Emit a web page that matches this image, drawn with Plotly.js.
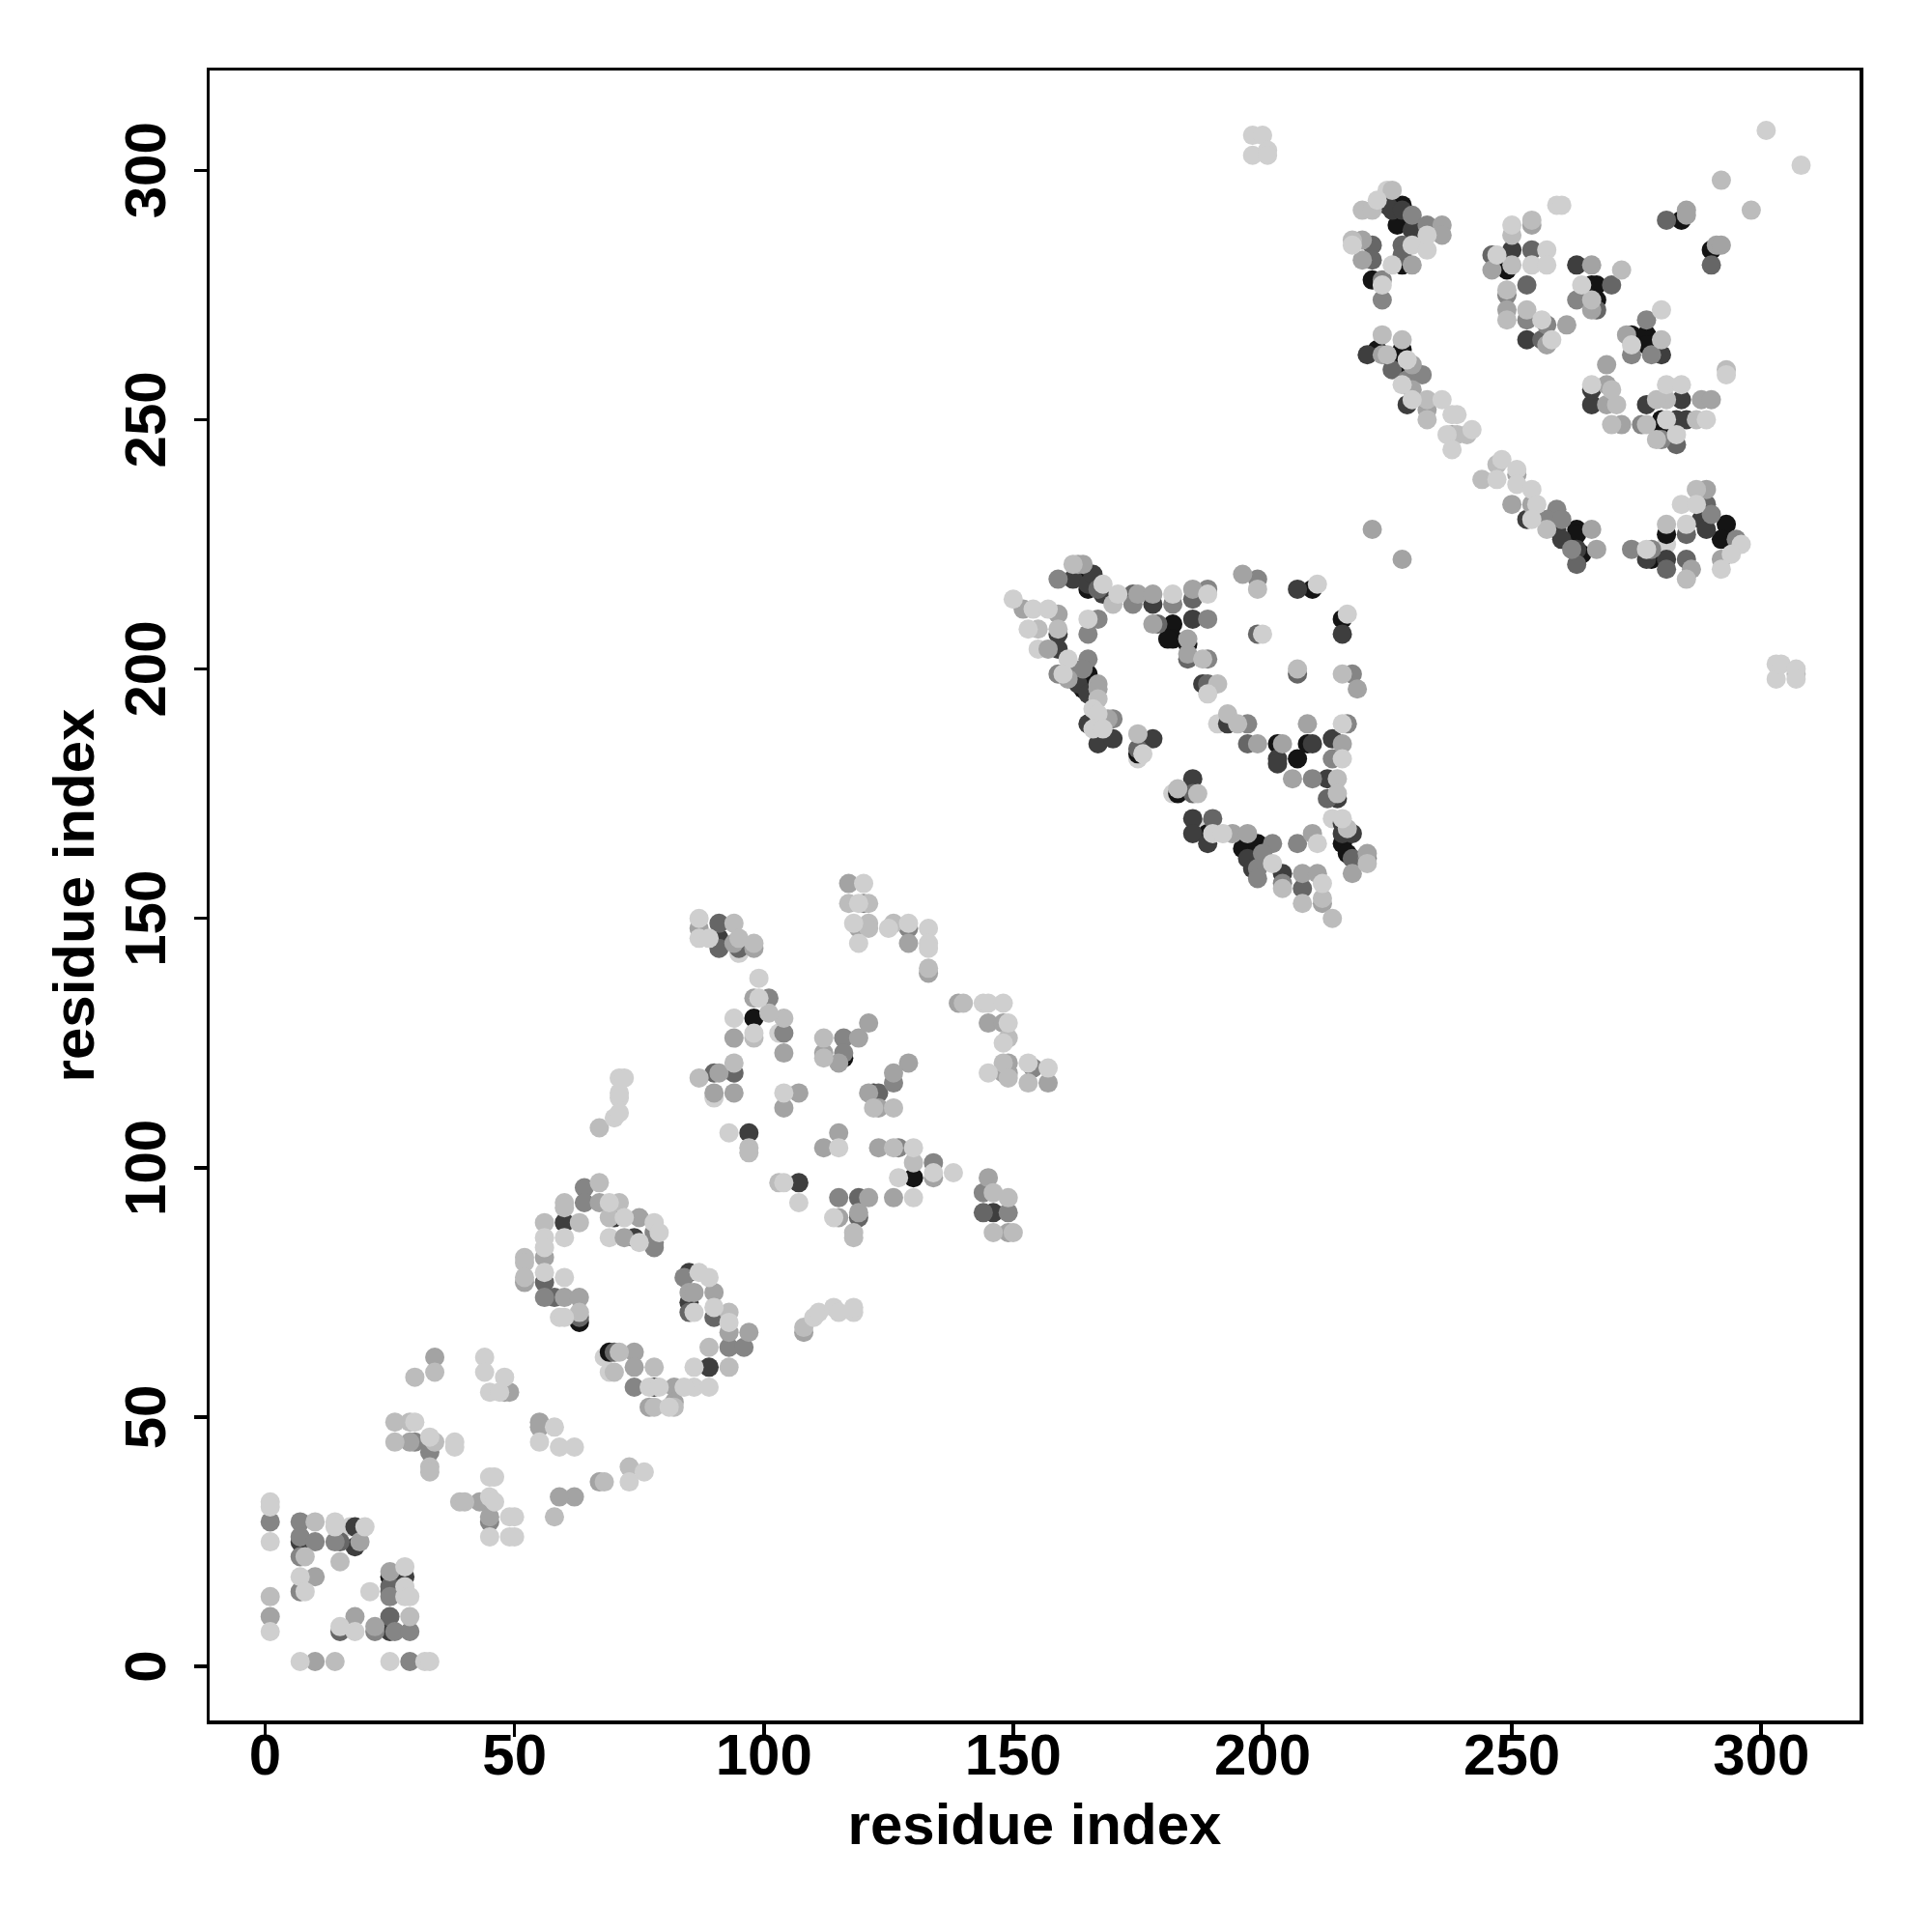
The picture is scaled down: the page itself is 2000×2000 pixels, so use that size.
<!DOCTYPE html>
<html><head><meta charset="utf-8">
<script src="https://cdn.plot.ly/plotly-3.0.1.min.js"></script>
<style>html,body{margin:0;padding:0;background:#fff}</style></head>
<body><div id="chart" style="width:2000px;height:2000px"></div>
<script>
const lightUnder=[[17,28],[68,62],[191,189],[182,175],[214,170],[175,182],[281,225],[103,127],[90,114],[188,168],[69,59],[69,86],[95,143],[155,204],[225,296]];
const black=[[25,18],[63,69],[69,63],[98,130],[116,122],[130,98],[163,219],[165,216],[182,209],[182,206],[181,206],[185,205],[165,199],[164,196],[175,183],[183,175],[189,167],[196,164],[199,165],[216,165],[217,163],[209,185],[203,185],[207,182],[210,216],[216,210],[228,293],[227,289],[228,281],[222,278],[284,290],[290,284],[249,280],[266,277],[267,277],[267,274],[274,267],[277,267],[277,265],[280,250],[280,249],[223,264],[226,262],[228,264],[228,260],[263,228],[263,227],[264,223],[281,227],[293,229],[292,226],[278,222]];
const dark=[[7,25],[18,28],[18,24],[25,7],[28,18],[60,89],[70,90],[74,86],[85,79],[85,73],[89,60],[78,56],[91,146],[91,145],[122,115],[97,107],[107,97],[146,91],[159,207],[159,204],[162,218],[165,217],[166,219],[168,215],[178,213],[186,210],[188,197],[163,197],[165,195],[165,189],[167,185],[170,186],[178,186],[193,189],[210,185],[203,182],[203,181],[214,186],[213,178],[215,174],[186,178],[186,170],[186,167],[189,165],[197,162],[198,160],[204,159],[216,169],[216,167],[218,167],[207,216],[216,207],[225,293],[226,292],[228,292],[230,288],[250,284],[263,281],[266,253],[266,256],[277,253],[284,254],[283,250],[285,250],[280,263],[253,266],[221,263],[229,253],[253,230],[259,228],[260,226],[263,224],[288,230],[289,228],[277,222],[281,222]];
const darkMid=[[15,25],[15,7],[25,15],[25,16],[25,10],[56,77],[58,74],[63,70],[85,71],[90,70],[70,63],[91,149],[91,144],[95,144],[90,119],[94,119],[123,115],[119,94],[119,90],[144,91],[167,216],[174,215],[186,214],[189,197],[185,202],[199,207],[207,199],[197,185],[175,184],[186,175],[190,170],[213,174],[208,156],[218,162],[179,209],[281,290],[222,285],[222,282],[228,285],[228,283],[290,281],[246,283],[254,284],[253,277],[270,277],[256,266],[267,272],[283,245],[226,260],[285,227],[289,233],[263,221],[285,222],[281,220]];
const midDark=[[1,29],[7,29],[7,26],[7,22],[10,25],[14,25],[7,15],[22,7],[25,14],[26,7],[29,7],[29,1],[30,45],[33,43],[45,29],[64,96],[64,93],[56,74],[84,78],[78,87],[78,85],[78,84],[93,64],[96,64],[74,56],[129,148],[120,153],[101,134],[104,127],[116,126],[116,123],[126,117],[127,104],[134,101],[154,120],[149,91],[144,95],[115,94],[159,218],[167,210],[165,207],[165,202],[174,213],[182,213],[189,216],[199,218],[189,210],[189,202],[218,199],[159,199],[162,200],[164,200],[170,190],[197,189],[217,189],[214,182],[210,178],[202,165],[207,165],[200,163],[199,160],[199,158],[204,157],[221,162],[230,291],[233,289],[224,278],[224,274],[263,274],[277,270],[274,263],[278,263],[253,270],[249,275],[257,269],[280,246],[276,249],[232,259],[229,258],[259,232],[257,230],[260,230],[262,224],[274,224],[278,224],[290,231],[295,226]];
const mid=[[1,10],[10,18],[10,1],[18,10],[22,8],[25,19],[19,25],[29,45],[34,62],[48,55],[49,55],[55,49],[55,48],[43,33],[62,34],[59,34],[67,37],[45,30],[52,77],[56,82],[67,93],[60,74],[63,74],[75,90],[85,75],[86,75],[90,75],[93,67],[97,67],[74,63],[74,60],[82,56],[77,52],[82,53],[72,86],[87,148],[94,145],[98,144],[117,157],[119,148],[129,145],[133,139],[139,133],[145,129],[148,129],[148,119],[149,119],[157,117],[98,134],[94,126],[119,126],[121,129],[112,123],[115,121],[104,123],[91,119],[94,115],[90,115],[107,115],[104,112],[129,121],[126,119],[121,115],[123,112],[115,107],[112,104],[123,104],[134,98],[126,94],[121,94],[115,90],[119,91],[145,98],[149,87],[108,67],[149,121],[152,212],[159,211],[157,204],[163,221],[164,221],[175,215],[178,215],[186,216],[196,219],[178,209],[185,206],[185,203],[219,196],[161,198],[167,197],[167,196],[168,190],[169,190],[199,185],[204,185],[209,189],[206,178],[216,185],[194,167],[197,167],[210,167],[208,159],[211,159],[212,153],[218,159],[221,163],[285,292],[285,291],[291,285],[292,285],[236,289],[236,287],[220,286],[220,282],[230,281],[254,289],[246,280],[249,272],[261,269],[266,281],[266,272],[273,267],[269,261],[269,257],[269,253],[288,254],[290,254],[272,249],[224,263],[230,261],[230,256],[233,252],[238,247],[251,239],[250,233],[254,233],[266,228],[267,224],[292,222],[286,220],[289,236],[222,228],[228,222],[257,265]];
const lightMid=[[1,14],[10,29],[14,1],[15,21],[29,10],[8,22],[26,49],[26,45],[29,49],[34,45],[33,40],[33,39],[30,58],[34,59],[68,37],[73,40],[39,33],[40,33],[58,30],[67,108],[67,97],[60,93],[60,92],[71,93],[56,89],[63,89],[52,82],[52,81],[52,78],[63,71],[69,90],[93,71],[89,64],[93,60],[71,63],[70,59],[78,60],[78,52],[82,52],[94,149],[95,146],[121,153],[121,149],[126,149],[133,140],[140,133],[149,126],[148,121],[149,118],[153,117],[104,130],[98,126],[112,126],[112,122],[87,118],[94,121],[122,112],[126,112],[97,104],[97,103],[126,104],[130,101],[103,97],[146,95],[149,94],[146,87],[150,87],[118,87],[118,86],[108,68],[101,131],[117,153],[121,148],[98,145],[162,221],[170,213],[188,202],[191,197],[199,216],[207,200],[216,199],[167,194],[175,187],[193,191],[195,189],[215,178],[215,175],[183,176],[187,175],[217,168],[204,156],[208,153],[212,154],[214,150],[221,161],[159,208],[155,208],[292,298],[298,292],[226,296],[220,292],[222,292],[218,286],[254,290],[250,287],[250,281],[249,276],[249,270],[253,272],[272,280],[266,274],[280,266],[293,260],[270,256],[271,253],[281,254],[279,254],[277,249],[287,250],[279,246],[270,249],[224,267],[228,266],[225,263],[233,254],[233,250],[239,247],[241,247],[247,241],[244,238],[257,228],[281,229],[287,236],[285,218],[307,199]];
const light=[[1,33],[1,32],[1,25],[1,7],[7,18],[8,15],[7,1],[14,29],[14,28],[15,8],[18,7],[20,28],[21,15],[25,1],[28,20],[28,16],[28,14],[29,14],[32,1],[33,1],[30,49],[33,46],[38,45],[38,44],[44,62],[44,59],[48,58],[45,55],[47,55],[58,48],[59,44],[62,44],[55,45],[73,37],[76,39],[45,38],[46,38],[45,34],[46,33],[49,30],[50,30],[49,26],[45,26],[50,26],[71,118],[72,118],[71,114],[71,115],[70,110],[71,111],[69,93],[56,86],[56,84],[60,86],[56,79],[60,78],[59,70],[60,70],[72,90],[78,89],[75,85],[79,87],[87,79],[89,78],[86,71],[90,72],[93,69],[86,60],[77,56],[79,56],[86,56],[89,56],[84,56],[81,52],[87,150],[87,146],[89,146],[120,157],[119,153],[118,149],[119,145],[125,148],[129,149],[133,148],[133,145],[133,144],[144,133],[145,133],[148,133],[149,129],[148,125],[145,119],[153,121],[157,120],[99,138],[99,134],[94,130],[98,127],[104,115],[93,107],[115,104],[130,104],[134,99],[127,98],[138,99],[130,94],[104,97],[107,93],[114,90],[110,70],[111,71],[114,72],[115,71],[118,71],[118,72],[150,214],[154,212],[157,212],[153,208],[165,210],[168,217],[171,215],[182,215],[189,215],[189,195],[161,202],[160,199],[166,192],[167,191],[166,188],[168,188],[176,183],[216,189],[216,182],[190,167],[192,167],[202,161],[211,165],[212,157],[216,170],[200,207],[211,217],[217,211],[301,308],[308,301],[223,294],[218,285],[230,285],[233,284],[233,287],[226,281],[224,277],[250,289],[259,293],[260,293],[247,283],[254,281],[257,284],[257,281],[256,270],[258,266],[280,272],[264,277],[274,265],[293,259],[266,257],[281,257],[284,257],[281,250],[289,250],[283,247],[236,254],[230,254],[229,262],[228,257],[239,251],[238,251],[237,247],[242,248],[238,244],[248,242],[251,240],[247,238],[251,237],[254,236],[255,233],[254,230],[277,224],[285,229],[284,233],[287,233],[296,225],[294,223],[292,220],[198,307],[200,307],[198,303],[201,304],[201,303],[303,201],[303,198],[304,201],[307,200],[307,198]];
const tickValues=[0,50,100,150,200,250,300];
const axisLabel='residue index';
const tones=[[lightUnder,'#cfcfcf'],[black,'#141414'],[dark,'#3e3e3e'],[darkMid,'#666666'],[midDark,'#858585'],[mid,'#a3a3a3'],[lightMid,'#bcbcbc'],[light,'#cfcfcf']];
const traces=tones.map(([pts,c])=>({type:'scatter',mode:'markers',x:pts.map(p=>p[0]),y:pts.map(p=>p[1]),
  marker:{size:20,color:c,line:{width:0}},hoverinfo:'skip',showlegend:false,cliponaxis:true}));
const font='"Liberation Sans",Arial,sans-serif';
const axis=(range,angle,standoff,lab,shift)=>({range,tickvals:tickValues,ticktext:tickValues.map(String),ticks:'outside',ticklen:13,tickwidth:3.5,tickcolor:'#000',
  showline:true,mirror:true,linewidth:3.5,linecolor:'#000',showgrid:false,zeroline:false,tickangle:angle,ticklabelstandoff:lab,ticklabelshift:shift,
  tickfont:{family:font,size:60,color:'#000',weight:700},
  title:{text:axisLabel,standoff,font:{family:font,size:60,color:'#000',weight:700}}});
Plotly.newPlot('chart',traces,{width:2000,height:2000,paper_bgcolor:'#fff',plot_bgcolor:'#fff',showlegend:false,
  margin:{l:216.5,r:74.5,t:72.5,b:218.5,pad:0},
  xaxis:axis([-11.15,319.72],0,19,-33,0),yaxis:axis([-10.82,320],-90,0,6,9)},{displayModeBar:false,staticPlot:true});
</script></body></html>
